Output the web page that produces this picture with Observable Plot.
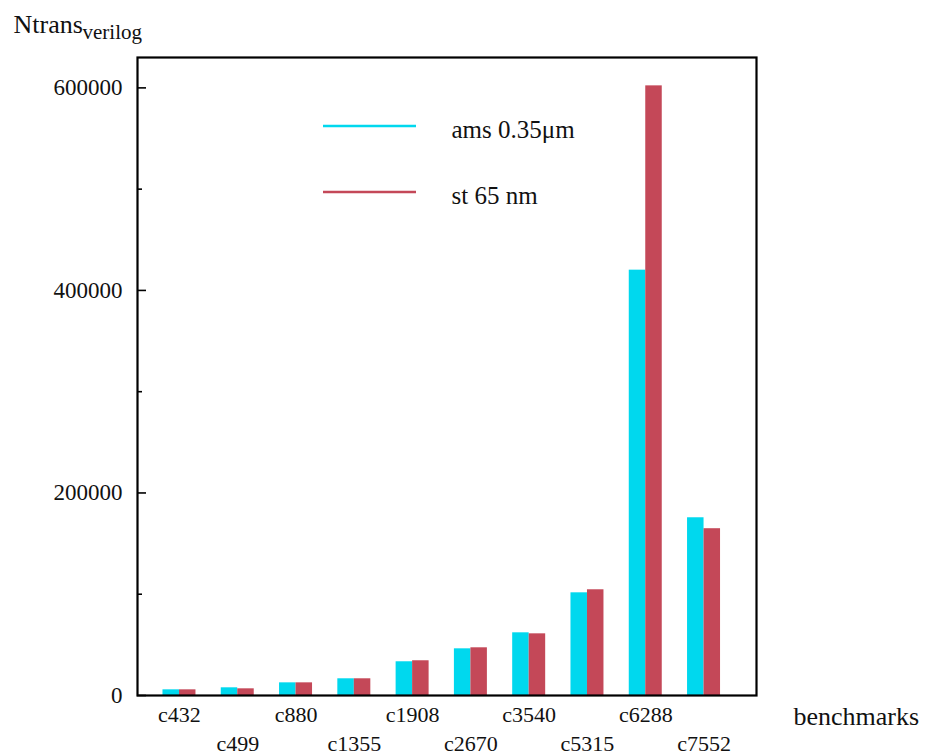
<!DOCTYPE html>
<html>
<head>
<meta charset="utf-8">
<script src="https://cdn.jsdelivr.net/npm/d3@7"></script>
<script src="https://cdn.jsdelivr.net/npm/@observablehq/plot@0.6"></script>
<style>
  html, body { margin: 0; padding: 0; background: #fff; }
  #chart { width: 929px; height: 755px; }
</style>
</head>
<body>
<div id="chart"></div>
<script>
const categories = ["c432","c499","c880","c1355","c1908","c2670","c3540","c5315","c6288","c7552"];
const amsValues  = [5600, 7600, 12500, 16500, 33300, 46100, 61900, 101400, 420000, 175500];
const stValues   = [5600, 6600, 12500, 16500, 34300, 47100, 60900, 104400, 602000, 164700];
const seriesNames = ["ams 0.35\u03bcm", "st 65 nm"];
const seriesColors = ["#00d8ee", "#c44858"];
const yMajorTicks = [0, 200000, 400000, 600000];
const yMinorTicks = [100000, 300000, 500000];
const yTitle = "Ntrans";
const yTitleSub = "verilog";
const xTitle = "benchmarks";

const W = 929, H = 755;
const mL = 137, mR = 173, mT = 57, mB = 60;
const frameW = W - mL - mR;
const barW = 0.283;

const rows = [];
categories.forEach((c, i) => {
  rows.push({cat: c, i, s: 0, value: amsValues[i]});
  rows.push({cat: c, i, s: 1, value: stValues[i]});
});
const cats = categories.map((c, i) => ({cat: c, i}));

const plot = Plot.plot({
  width: W, height: H,
  marginLeft: mL, marginRight: mR, marginTop: mT, marginBottom: mB,
  style: {fontFamily: "'Liberation Serif', 'Times New Roman', serif", fontSize: "22px", background: "#fff", color: "#111"},
  x: {type: "linear", domain: [-0.72, 9.9], axis: null},
  y: {domain: [0, 630000], axis: null},
  marks: [
    Plot.rectY(rows, {
      x1: d => d.s === 0 ? d.i - barW : d.i,
      x2: d => d.s === 0 ? d.i : d.i + barW,
      y: "value",
      fill: d => seriesColors[d.s]
    }),
    Plot.frame({stroke: "black", strokeWidth: 2.2}),
    Plot.tickY(yMajorTicks, {y: d => d, stroke: "black", strokeWidth: 1.6, insetRight: frameW - 9}),
    Plot.tickY(yMinorTicks, {y: d => d, stroke: "black", strokeWidth: 1.6, insetRight: frameW - 5}),
    Plot.axisY({ticks: yMajorTicks, tickSize: 0, tickPadding: 15, tickFormat: d3.format("d"), label: null, fontSize: 23}),
    Plot.text(cats.filter(d => d.i % 2 === 0), {x: "i", frameAnchor: "bottom", text: "cat", dy: 26, lineAnchor: "bottom", fontSize: 22}),
    Plot.text(cats.filter(d => d.i % 2 === 1), {x: "i", frameAnchor: "bottom", text: "cat", dy: 55, lineAnchor: "bottom", fontSize: 22}),
    Plot.text([yTitle], {text: d => d, frameAnchor: "top-left", dx: 13 - mL, dy: 32 - mT, textAnchor: "start", lineAnchor: "bottom", fontSize: 26}),
    Plot.text([yTitleSub], {text: d => d, frameAnchor: "top-left", dx: 82 - mL, dy: 38 - mT, textAnchor: "start", lineAnchor: "bottom", fontSize: 21}),
    Plot.text([xTitle], {text: d => d, frameAnchor: "bottom-right", dx: 37, dy: 29, textAnchor: "start", lineAnchor: "bottom", fontSize: 26}),
    Plot.text([seriesNames[0]], {text: d => d, frameAnchor: "top-left", dx: 451 - mL, dy: 137 - mT, textAnchor: "start", lineAnchor: "bottom", fontSize: 25}),
    Plot.text([seriesNames[1]], {text: d => d, frameAnchor: "top-left", dx: 451 - mL, dy: 203 - mT, textAnchor: "start", lineAnchor: "bottom", fontSize: 25})
  ]
});

// legend sample lines
const svg = d3.select(plot);
const legendYs = [126, 192];
seriesColors.forEach((c, k) => {
  svg.append("line")
    .attr("x1", 323).attr("x2", 416)
    .attr("y1", legendYs[k]).attr("y2", legendYs[k])
    .attr("stroke", c).attr("stroke-width", 2.6);
});

document.getElementById("chart").appendChild(plot);
</script>
</body>
</html>
